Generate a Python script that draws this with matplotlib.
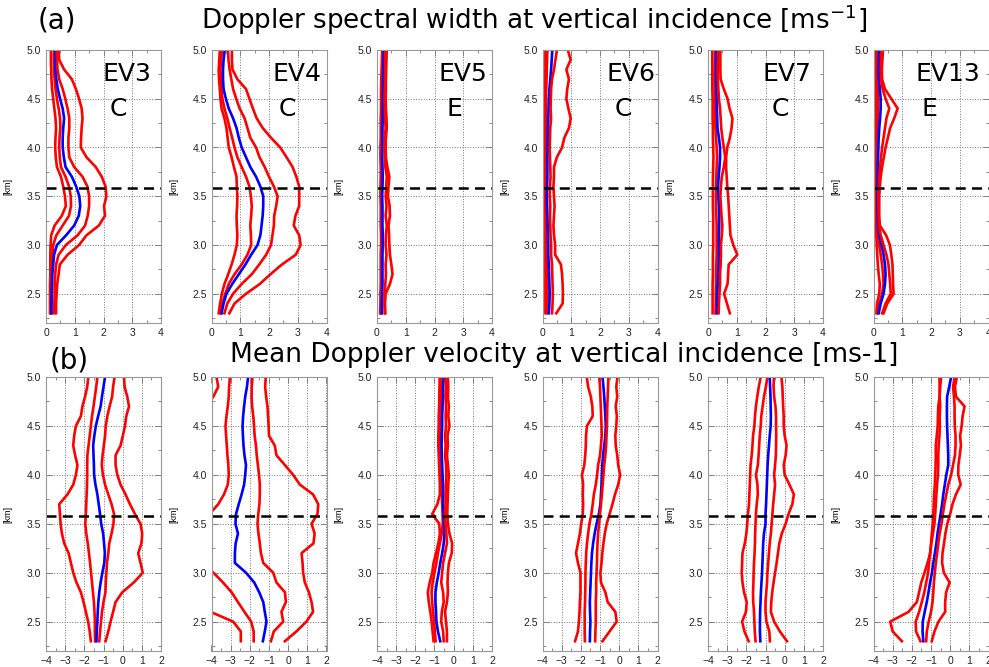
import matplotlib
matplotlib.use("Agg")
import matplotlib.pyplot as plt
from matplotlib.ticker import MultipleLocator

# range gates [km], top to bottom
HEIGHTS = [5.0, 4.9, 4.8, 4.7, 4.6, 4.5, 4.4, 4.3, 4.2, 4.1, 4.0, 3.9, 3.8, 3.7,
           3.6, 3.5, 3.4, 3.3, 3.2, 3.1, 3.0, 2.9, 2.8, 2.7, 2.6, 2.5, 2.4, 2.3]
EVENTS = ["EV3", "EV4", "EV5", "EV6", "EV7", "EV13"]
TYPES = ["C", "C", "E", "C", "C", "E"]
MELT_LEVEL = 3.58

# each profile set: low, lower-mid, median (blue), upper-mid, high
SW_EV3 = [
    [0.17, 0.17, 0.18, 0.19, 0.21, 0.25, 0.29, 0.33, 0.35, 0.33, 0.32, 0.34, 0.38, 0.52, 0.60, 0.66, 0.69, 0.55, 0.30, 0.18, 0.16, 0.15, 0.15, 0.15, 0.14, 0.14, 0.14, 0.14],
    [0.27, 0.27, 0.28, 0.30, 0.33, 0.38, 0.44, 0.49, 0.50, 0.47, 0.46, 0.48, 0.52, 0.68, 0.80, 0.86, 0.87, 0.80, 0.58, 0.36, 0.25, 0.22, 0.20, 0.19, 0.19, 0.18, 0.18, 0.18],
    [0.32, 0.32, 0.33, 0.36, 0.41, 0.49, 0.58, 0.63, 0.60, 0.58, 0.58, 0.62, 0.68, 0.90, 1.05, 1.16, 1.19, 1.14, 0.98, 0.70, 0.38, 0.28, 0.25, 0.22, 0.21, 0.20, 0.19, 0.19],
    [0.37, 0.38, 0.40, 0.46, 0.58, 0.67, 0.75, 0.81, 0.81, 0.78, 0.78, 0.81, 0.98, 1.27, 1.44, 1.50, 1.50, 1.45, 1.36, 1.10, 0.69, 0.44, 0.35, 0.32, 0.30, 0.30, 0.29, 0.29],
    [0.44, 0.46, 0.63, 0.90, 1.04, 1.15, 1.24, 1.27, 1.24, 1.22, 1.21, 1.41, 1.73, 1.94, 2.07, 2.10, 2.02, 2.05, 1.84, 1.41, 1.15, 0.75, 0.48, 0.44, 0.39, 0.37, 0.35, 0.35],
]
SW_EV4 = [
    [0.29, 0.27, 0.25, 0.26, 0.29, 0.31, 0.35, 0.45, 0.52, 0.56, 0.60, 0.70, 0.78, 0.87, 0.88, 0.90, 0.89, 0.87, 0.88, 0.90, 0.88, 0.80, 0.70, 0.58, 0.45, 0.36, 0.30, 0.25],
    [0.37, 0.33, 0.31, 0.32, 0.34, 0.38, 0.45, 0.55, 0.63, 0.72, 0.80, 0.90, 1.05, 1.20, 1.32, 1.37, 1.40, 1.38, 1.35, 1.37, 1.38, 1.25, 1.05, 0.80, 0.60, 0.48, 0.38, 0.32],
    [0.46, 0.42, 0.40, 0.40, 0.42, 0.50, 0.60, 0.75, 0.87, 0.95, 1.05, 1.20, 1.35, 1.55, 1.70, 1.80, 1.80, 1.78, 1.74, 1.70, 1.60, 1.38, 1.18, 0.95, 0.72, 0.52, 0.42, 0.35],
    [0.57, 0.59, 0.63, 0.69, 0.75, 0.86, 0.98, 1.15, 1.25, 1.35, 1.55, 1.67, 1.85, 2.00, 2.17, 2.30, 2.25, 2.18, 2.17, 2.12, 2.07, 1.90, 1.66, 1.40, 1.05, 0.75, 0.55, 0.45],
    [0.71, 0.71, 0.73, 0.90, 1.20, 1.32, 1.44, 1.57, 1.78, 2.07, 2.39, 2.61, 2.82, 2.95, 3.05, 3.05, 3.05, 2.92, 2.86, 3.05, 3.10, 2.93, 2.45, 2.05, 1.68, 1.20, 0.80, 0.62],
]
SW_EV5 = [
    [0.18, 0.17, 0.16, 0.15, 0.14, 0.14, 0.14, 0.13, 0.13, 0.13, 0.12, 0.12, 0.13, 0.13, 0.12, 0.12, 0.13, 0.13, 0.13, 0.14, 0.14, 0.13, 0.13, 0.13, 0.13, 0.12, 0.12, 0.11],
    [0.21, 0.20, 0.19, 0.18, 0.17, 0.17, 0.17, 0.16, 0.16, 0.16, 0.15, 0.15, 0.16, 0.17, 0.16, 0.15, 0.16, 0.17, 0.16, 0.16, 0.17, 0.16, 0.16, 0.16, 0.16, 0.15, 0.15, 0.14],
    [0.24, 0.23, 0.22, 0.21, 0.21, 0.20, 0.20, 0.20, 0.19, 0.19, 0.19, 0.18, 0.19, 0.20, 0.19, 0.18, 0.19, 0.19, 0.19, 0.20, 0.20, 0.19, 0.19, 0.19, 0.19, 0.18, 0.17, 0.17],
    [0.29, 0.29, 0.28, 0.28, 0.27, 0.26, 0.27, 0.28, 0.30, 0.27, 0.26, 0.27, 0.29, 0.34, 0.32, 0.30, 0.33, 0.30, 0.34, 0.31, 0.30, 0.33, 0.30, 0.31, 0.29, 0.26, 0.26, 0.27],
    [0.34, 0.33, 0.32, 0.31, 0.31, 0.30, 0.31, 0.33, 0.34, 0.31, 0.30, 0.31, 0.36, 0.43, 0.40, 0.38, 0.44, 0.45, 0.40, 0.42, 0.43, 0.45, 0.50, 0.54, 0.45, 0.30, 0.28, 0.29],
]
SW_EV6 = [
    [0.10, 0.10, 0.10, 0.09, 0.09, 0.09, 0.09, 0.09, 0.09, 0.09, 0.09, 0.09, 0.09, 0.09, 0.09, 0.09, 0.09, 0.10, 0.10, 0.10, 0.10, 0.10, 0.10, 0.10, 0.10, 0.10, 0.10, 0.10],
    [0.17, 0.16, 0.15, 0.14, 0.13, 0.12, 0.12, 0.12, 0.12, 0.12, 0.12, 0.12, 0.12, 0.12, 0.12, 0.12, 0.13, 0.13, 0.13, 0.14, 0.14, 0.15, 0.15, 0.16, 0.16, 0.17, 0.17, 0.16],
    [0.34, 0.32, 0.30, 0.27, 0.24, 0.22, 0.21, 0.20, 0.19, 0.18, 0.18, 0.17, 0.17, 0.17, 0.16, 0.15, 0.16, 0.17, 0.18, 0.19, 0.20, 0.20, 0.22, 0.23, 0.24, 0.25, 0.24, 0.22],
    [0.50, 0.45, 0.40, 0.33, 0.30, 0.29, 0.28, 0.30, 0.27, 0.26, 0.25, 0.26, 0.27, 0.28, 0.26, 0.25, 0.27, 0.26, 0.27, 0.28, 0.30, 0.30, 0.33, 0.34, 0.35, 0.36, 0.35, 0.33],
    [0.88, 0.98, 0.83, 0.92, 0.86, 0.83, 0.90, 0.98, 0.92, 0.76, 0.68, 0.50, 0.40, 0.40, 0.38, 0.40, 0.42, 0.40, 0.38, 0.40, 0.44, 0.44, 0.64, 0.68, 0.70, 0.71, 0.70, 0.48],
]
SW_EV7 = [
    [0.15, 0.15, 0.15, 0.15, 0.15, 0.16, 0.16, 0.16, 0.17, 0.17, 0.18, 0.19, 0.18, 0.17, 0.17, 0.17, 0.17, 0.18, 0.18, 0.18, 0.18, 0.17, 0.17, 0.17, 0.16, 0.16, 0.16, 0.16],
    [0.24, 0.24, 0.23, 0.23, 0.23, 0.24, 0.25, 0.25, 0.26, 0.28, 0.30, 0.32, 0.30, 0.29, 0.28, 0.28, 0.28, 0.29, 0.30, 0.30, 0.30, 0.30, 0.29, 0.28, 0.28, 0.27, 0.27, 0.26],
    [0.29, 0.28, 0.28, 0.28, 0.29, 0.30, 0.31, 0.32, 0.33, 0.38, 0.42, 0.42, 0.40, 0.37, 0.35, 0.36, 0.38, 0.39, 0.39, 0.38, 0.38, 0.38, 0.37, 0.36, 0.34, 0.32, 0.31, 0.31],
    [0.36, 0.35, 0.34, 0.34, 0.36, 0.38, 0.42, 0.44, 0.46, 0.50, 0.55, 0.60, 0.55, 0.48, 0.45, 0.43, 0.45, 0.47, 0.50, 0.48, 0.45, 0.45, 0.44, 0.42, 0.42, 0.40, 0.38, 0.37],
    [0.43, 0.43, 0.43, 0.44, 0.55, 0.68, 0.75, 0.85, 0.82, 0.76, 0.67, 0.63, 0.63, 0.65, 0.67, 0.70, 0.72, 0.74, 0.76, 0.78, 0.88, 1.02, 0.72, 0.70, 0.68, 0.56, 0.66, 0.76],
]
SW_EV13 = [
    [0.09, 0.09, 0.09, 0.09, 0.09, 0.09, 0.09, 0.09, 0.09, 0.09, 0.09, 0.09, 0.09, 0.09, 0.09, 0.09, 0.09, 0.09, 0.09, 0.10, 0.11, 0.13, 0.15, 0.18, 0.22, 0.20, 0.12, 0.10],
    [0.15, 0.14, 0.14, 0.14, 0.15, 0.16, 0.16, 0.15, 0.14, 0.13, 0.13, 0.12, 0.12, 0.12, 0.12, 0.12, 0.12, 0.12, 0.13, 0.15, 0.20, 0.25, 0.30, 0.33, 0.35, 0.30, 0.20, 0.14],
    [0.20, 0.19, 0.18, 0.19, 0.22, 0.25, 0.25, 0.23, 0.20, 0.18, 0.17, 0.16, 0.15, 0.15, 0.14, 0.14, 0.14, 0.15, 0.16, 0.20, 0.28, 0.35, 0.40, 0.42, 0.40, 0.35, 0.25, 0.18],
    [0.27, 0.26, 0.25, 0.26, 0.32, 0.42, 0.55, 0.45, 0.40, 0.35, 0.30, 0.26, 0.23, 0.20, 0.18, 0.17, 0.17, 0.18, 0.19, 0.25, 0.35, 0.45, 0.52, 0.55, 0.58, 0.60, 0.42, 0.30],
    [0.33, 0.31, 0.29, 0.30, 0.40, 0.62, 0.84, 0.72, 0.58, 0.50, 0.42, 0.36, 0.30, 0.25, 0.22, 0.20, 0.20, 0.20, 0.22, 0.44, 0.57, 0.62, 0.66, 0.67, 0.68, 0.70, 0.48, 0.35],
]

MDV_EV3 = [
    [-1.79, -1.85, -1.96, -2.10, -2.18, -2.44, -2.53, -2.58, -2.48, -2.36, -2.44, -2.58, -2.88, -3.31, -3.27, -3.24, -3.17, -3.05, -2.82, -2.70, -2.58, -2.41, -2.18, -2.04, -1.92, -1.80, -1.72, -1.66],
    [-1.32, -1.38, -1.45, -1.52, -1.60, -1.66, -1.72, -1.78, -1.84, -1.85, -1.85, -1.86, -1.88, -1.90, -1.92, -1.95, -1.90, -1.82, -1.76, -1.70, -1.65, -1.60, -1.55, -1.50, -1.47, -1.45, -1.45, -1.44],
    [-0.92, -1.00, -1.08, -1.15, -1.28, -1.40, -1.48, -1.54, -1.52, -1.50, -1.49, -1.42, -1.32, -1.25, -1.18, -1.12, -1.02, -0.97, -0.93, -0.96, -1.06, -1.15, -1.22, -1.27, -1.30, -1.32, -1.35, -1.37],
    [-0.42, -0.50, -0.55, -0.68, -0.80, -0.88, -0.92, -0.98, -1.05, -1.09, -1.03, -0.92, -0.75, -0.58, -0.45, -0.48, -0.58, -0.70, -0.75, -0.82, -0.85, -0.88, -0.90, -1.00, -1.08, -1.13, -1.18, -1.22],
    [0.07, 0.10, 0.24, 0.33, 0.19, 0.12, 0.01, -0.11, -0.37, -0.37, -0.28, -0.11, 0.15, 0.38, 0.64, 0.93, 1.02, 0.98, 0.81, 0.93, 1.05, 0.58, -0.02, -0.37, -0.50, -0.63, -0.75, -0.89],
]
MDV_EV4 = [
    [-3.74, -3.65, -3.90, -4.30, -4.60, -4.60, -4.60, -4.60, -4.60, -4.60, -4.60, -4.60, -4.60, -4.60, -4.60, -4.60, -4.60, -4.60, -4.60, -4.60, -4.60, -4.60, -4.60, -4.60, -4.05, -2.87, -2.47, -2.47],
    [-3.04, -3.08, -3.10, -3.15, -3.22, -3.27, -3.24, -3.20, -3.17, -3.12, -3.10, -3.15, -3.35, -3.65, -4.10, -4.50, -4.50, -4.50, -4.50, -4.50, -3.90, -3.40, -2.95, -2.62, -2.28, -1.93, -1.80, -1.80],
    [-2.09, -2.15, -2.24, -2.30, -2.35, -2.38, -2.36, -2.33, -2.28, -2.20, -2.24, -2.30, -2.43, -2.58, -2.72, -2.75, -2.62, -2.74, -2.78, -2.78, -2.20, -1.77, -1.51, -1.30, -1.22, -1.13, -1.22, -1.32],
    [-1.86, -1.90, -1.91, -1.88, -1.82, -1.78, -1.75, -1.68, -1.64, -1.58, -1.52, -1.48, -1.48, -1.50, -1.56, -1.60, -1.55, -1.48, -1.42, -1.30, -0.78, -0.61, -0.17, -0.12, -0.35, -0.26, -0.75, -0.90],
    [-1.17, -1.20, -1.15, -1.08, -1.05, -1.02, -1.00, -0.70, -0.61, -0.17, 0.26, 0.61, 1.30, 1.57, 1.53, 1.22, 1.38, 1.32, 0.70, 0.75, 0.78, 0.87, 1.08, 1.22, 1.30, 0.95, 0.43, -0.17],
]
MDV_EV5 = [
    [-0.73, -0.74, -0.75, -0.76, -0.78, -0.78, -0.80, -0.80, -0.78, -0.76, -0.74, -0.72, -0.72, -0.85, -1.12, -0.75, -0.72, -0.80, -0.92, -1.05, -1.12, -1.25, -1.35, -1.30, -1.22, -1.15, -1.10, -1.05],
    [-0.64, -0.65, -0.66, -0.68, -0.70, -0.70, -0.72, -0.72, -0.70, -0.68, -0.65, -0.65, -0.62, -0.60, -0.58, -0.57, -0.62, -0.72, -0.82, -0.90, -1.00, -1.10, -1.15, -1.12, -1.08, -1.02, -0.98, -0.94],
    [-0.52, -0.55, -0.55, -0.58, -0.60, -0.60, -0.62, -0.63, -0.62, -0.60, -0.58, -0.55, -0.55, -0.55, -0.52, -0.50, -0.48, -0.52, -0.60, -0.70, -0.78, -0.88, -0.95, -0.95, -0.92, -0.90, -0.82, -0.70],
    [-0.42, -0.40, -0.42, -0.40, -0.42, -0.40, -0.45, -0.42, -0.45, -0.40, -0.38, -0.40, -0.42, -0.42, -0.45, -0.42, -0.38, -0.35, -0.45, -0.55, -0.60, -0.65, -0.55, -0.52, -0.62, -0.65, -0.55, -0.52],
    [-0.30, -0.28, -0.30, -0.25, -0.28, -0.22, -0.32, -0.30, -0.35, -0.30, -0.25, -0.28, -0.30, -0.32, -0.33, -0.30, -0.22, -0.08, -0.10, -0.25, -0.30, -0.32, -0.30, -0.35, -0.45, -0.40, -0.35, -0.35],
]
MDV_EV6 = [
    [-1.69, -1.62, -1.48, -1.40, -1.38, -1.68, -1.73, -1.74, -1.77, -1.82, -1.94, -1.88, -1.90, -1.88, -1.90, -1.98, -2.05, -2.15, -2.25, -2.15, -2.02, -2.02, -2.02, -2.05, -2.07, -2.10, -2.15, -2.30],
    [-1.04, -1.00, -0.98, -0.96, -0.94, -0.92, -0.91, -0.95, -1.00, -1.10, -1.15, -1.22, -1.32, -1.38, -1.45, -1.55, -1.62, -1.68, -1.72, -1.74, -1.76, -1.76, -1.77, -1.78, -1.80, -1.80, -1.80, -1.79],
    [-0.87, -0.82, -0.78, -0.75, -0.72, -0.70, -0.72, -0.78, -0.84, -0.88, -0.90, -0.92, -0.95, -0.98, -1.06, -1.18, -1.28, -1.36, -1.42, -1.45, -1.47, -1.49, -1.51, -1.53, -1.52, -1.50, -1.52, -1.53],
    [-0.56, -0.58, -0.60, -0.62, -0.63, -0.64, -0.66, -0.68, -0.72, -0.78, -0.82, -0.86, -0.90, -0.95, -1.00, -1.05, -1.10, -1.13, -1.15, -1.16, -1.18, -1.20, -1.20, -1.22, -1.22, -1.22, -1.24, -1.25],
    [-0.09, -0.15, -0.10, -0.18, -0.12, -0.15, -0.20, -0.18, -0.10, -0.05, 0.05, -0.05, -0.22, -0.35, -0.50, -0.65, -0.75, -0.82, -0.88, -0.92, -0.98, -0.95, -0.72, -0.60, -0.20, -0.13, -0.50, -0.87],
]
MDV_EV7 = [
    [-1.25, -1.35, -1.43, -1.50, -1.55, -1.58, -1.65, -1.68, -1.72, -1.78, -1.80, -1.82, -1.84, -1.86, -1.92, -1.95, -2.00, -2.08, -2.20, -2.22, -2.24, -2.20, -2.12, -1.98, -2.02, -2.22, -2.10, -1.88],
    [-0.90, -0.98, -1.08, -1.15, -1.22, -1.25, -1.30, -1.33, -1.36, -1.40, -1.50, -1.42, -1.40, -1.46, -1.50, -1.52, -1.54, -1.55, -1.57, -1.60, -1.62, -1.63, -1.65, -1.64, -1.60, -1.58, -1.56, -1.52],
    [-0.78, -0.76, -0.74, -0.73, -0.72, -0.73, -0.78, -0.82, -0.86, -0.89, -0.91, -0.93, -0.95, -0.97, -1.00, -1.00, -1.08, -1.12, -1.14, -1.16, -1.18, -1.21, -1.24, -1.26, -1.28, -1.29, -1.29, -1.27],
    [-0.56, -0.58, -0.55, -0.48, -0.45, -0.45, -0.44, -0.45, -0.46, -0.50, -0.55, -0.50, -0.55, -0.60, -0.64, -0.68, -0.72, -0.78, -0.82, -0.86, -0.90, -0.92, -0.96, -1.00, -1.00, -0.95, -0.80, -0.77],
    [-0.17, -0.12, -0.10, -0.08, -0.05, -0.05, 0.00, 0.10, 0.05, -0.05, 0.00, 0.25, 0.48, 0.40, 0.20, 0.05, -0.15, -0.28, -0.35, -0.42, -0.50, -0.58, -0.65, -0.70, -0.72, -0.55, -0.25, 0.12],
]
MDV_EV13 = [
    [-0.56, -0.55, -0.55, -0.62, -0.64, -0.65, -0.70, -0.75, -0.75, -0.76, -0.78, -0.80, -0.84, -0.86, -0.88, -0.91, -0.96, -1.00, -1.04, -1.18, -1.34, -1.51, -1.62, -1.74, -2.17, -3.13, -3.00, -2.52],
    [-0.47, -0.52, -0.55, -0.52, -0.55, -0.54, -0.56, -0.60, -0.62, -0.62, -0.64, -0.68, -0.72, -0.75, -0.78, -0.82, -0.90, -0.98, -1.05, -1.10, -1.15, -1.25, -1.35, -1.48, -1.62, -1.80, -1.78, -1.55],
    [0.05, -0.05, -0.16, -0.17, -0.17, -0.16, -0.14, -0.12, -0.10, -0.10, -0.20, -0.28, -0.36, -0.42, -0.50, -0.58, -0.66, -0.72, -0.80, -0.88, -0.95, -1.05, -1.13, -1.22, -1.33, -1.43, -1.44, -1.40],
    [0.23, 0.15, 0.20, 0.23, 0.23, 0.24, 0.28, 0.28, 0.25, 0.15, 0.05, -0.10, -0.20, -0.30, -0.38, -0.45, -0.55, -0.62, -0.68, -0.75, -0.80, -0.85, -0.88, -0.92, -1.00, -1.12, -1.22, -1.25],
    [0.35, 0.25, 0.30, 0.75, 0.65, 0.60, 0.52, 0.56, 0.50, 0.43, 0.42, 0.55, 0.30, 0.12, 0.00, -0.15, -0.25, -0.32, -0.40, -0.42, -0.33, -0.03, -0.21, -0.26, -0.26, -0.61, -0.82, -0.96],
]

SW_PROFILES = [SW_EV3, SW_EV4, SW_EV5, SW_EV6, SW_EV7, SW_EV13]
MDV_PROFILES = [MDV_EV3, MDV_EV4, MDV_EV5, MDV_EV6, MDV_EV7, MDV_EV13]
LINE_COLORS = ["red", "red", "blue", "red", "red"]

# label positions inside each top panel (axes fraction)
EV_X = [0.70, 0.74, 0.75, 0.77, 0.69, 0.65]
TYPE_X = [0.63, 0.655, 0.67, 0.70, 0.625, 0.49]

W, H = 989, 667
fig = plt.figure(figsize=(W / 100, H / 100), dpi=100)
TICKFONT = "Liberation Sans"


def style_axes(ax, xlim, xmajor):
    ax.set_xlim(*xlim)
    ax.set_ylim(2.2, 5.0)
    ax.xaxis.set_major_locator(MultipleLocator(xmajor))
    ax.xaxis.set_minor_locator(MultipleLocator(xmajor / 2))
    ax.yaxis.set_minor_locator(MultipleLocator(0.25))
    ax.set_yticks([2.5, 3.0, 3.5, 4.0, 4.5, 5.0])
    ax.set_yticklabels(["2.5", "3.0", "3.5", "4.0", "4.5", "5.0"])
    ax.tick_params(which="both", direction="in", top=True, right=True,
                   color="#777777", labelsize=7.5, labelcolor="#222222")
    ax.tick_params(which="major", length=4, width=0.6)
    ax.tick_params(which="minor", length=2.5, width=0.6)
    for lab in ax.get_xticklabels() + ax.get_yticklabels():
        lab.set_family(TICKFONT)
    ax.grid(True, which="major", linestyle=":", color="#777777", linewidth=0.7)
    for s in ax.spines.values():
        s.set_color("#999999")
        s.set_linewidth(0.8)
    ax.set_ylabel("[km]", fontsize=6.5, family=TICKFONT, labelpad=10)


pw = 115
for i in range(6):
    left = 46 + 165.5 * i
    # top row: spectral width
    ax = fig.add_axes([left / W, (H - 323) / H, pw / W, 273 / H])
    for prof, c in zip(SW_PROFILES[i], LINE_COLORS):
        ax.plot(prof, HEIGHTS, color=c, lw=1.9)
    ax.axhline(MELT_LEVEL, color="black", ls="--", lw=1.8, dashes=(4, 2.5))
    style_axes(ax, (0, 4), 1)
    ax.text(EV_X[i], 0.912, EVENTS[i], transform=ax.transAxes, fontsize=18,
            ha="center", va="center", zorder=5)
    ax.text(TYPE_X[i], 0.784, TYPES[i], transform=ax.transAxes, fontsize=18,
            ha="center", va="center", zorder=5)

    # bottom row: mean Doppler velocity
    ax = fig.add_axes([left / W, (H - 651) / H, pw / W, 274 / H])
    for prof, c in zip(MDV_PROFILES[i], LINE_COLORS):
        ax.plot(prof, HEIGHTS, color=c, lw=1.9)
    ax.axhline(MELT_LEVEL, color="black", ls="--", lw=1.8, dashes=(4, 2.5))
    style_axes(ax, (-4, 2), 1)

fig.text(57 / W, 1 - 20 / H, "(a)", fontsize=20, ha="center", va="center")
fig.text(534 / W, 1 - 20 / H,
         "Doppler spectral width at vertical incidence [ms$^{-1}$]",
         fontsize=18.8, ha="center", va="center")
fig.text(69 / W, 1 - 360 / H, "(b)", fontsize=20, ha="center", va="center",
         zorder=-1)
fig.text(564 / W, 1 - 355 / H,
         "Mean Doppler velocity at vertical incidence [ms-1]",
         fontsize=19, ha="center", va="center")

fig.savefig("out.png", dpi=100, facecolor="white")
